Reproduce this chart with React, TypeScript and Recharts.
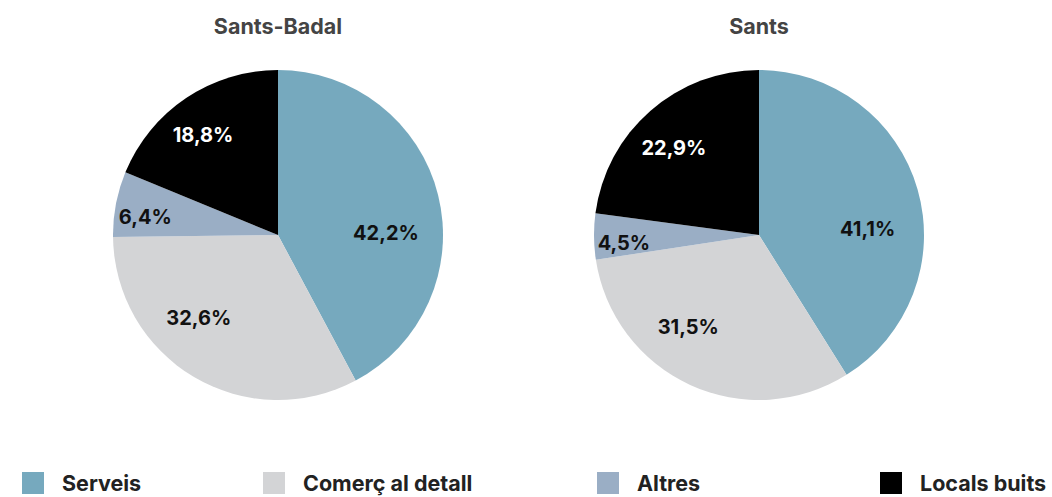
import React from "react";
import { PieChart, Pie, Cell, Legend } from "recharts";

// Categories and colours
const categories = ["Serveis", "Comerç al detall", "Altres", "Locals buits"];
const colors = ["#76a9be", "#d3d4d6", "#9aaec5", "#000000"];

// Share of premises (%)
const santsBadal = [42.2, 32.6, 6.4, 18.8];
const sants = [41.1, 31.5, 4.5, 22.9];

const titles = ["Sants-Badal", "Sants"];

const FONT = "Inter, Roboto, sans-serif";
const RADIAN = Math.PI / 180;

const toRows = (values: number[]) =>
  categories.map((name, i) => ({ name, value: values[i] }));

const renderLabel = (props: any) => {
  const { cx, cy, midAngle, outerRadius, value, index } = props;
  // smaller slices get their label pushed further out,
  // big ones are nudged clockwise a little
  const r = outerRadius * (0.62 + 0.22 * (1 - value / 50));
  const a = midAngle + (value > 30 ? -13 : 3);
  const x = cx + r * Math.cos(-a * RADIAN);
  const y = cy + r * Math.sin(-a * RADIAN);
  return (
    <text
      x={x}
      y={y}
      fill={index === 3 ? "#fff" : "#111"}
      textAnchor="middle"
      dominantBaseline="central"
      fontFamily={FONT}
      fontWeight={700}
      fontSize={20}
    >
      {value.toFixed(1).replace(".", ",")}%
    </text>
  );
};

// legend item left edges
const legendX = [22, 263, 597, 880];

const renderLegend = () => (
  <div style={{ position: "relative", width: 1052, height: 26 }}>
    {categories.map((c, i) => (
      <div
        key={c}
        style={{
          position: "absolute",
          left: legendX[i],
          top: 0,
          height: 24,
          lineHeight: "24px",
          display: "flex",
          alignItems: "center",
          fontFamily: FONT,
          fontWeight: 700,
          fontSize: 21.5,
          color: "#222",
          whiteSpace: "nowrap",
        }}
      >
        <span
          style={{
            display: "inline-block",
            width: 22,
            height: 22,
            background: colors[i],
            marginRight: 18,
          }}
        />
        {c}
      </div>
    ))}
  </div>
);

export default function App() {
  const centers = [278, 759];
  return (
    <div style={{ position: "absolute", left: 0, top: 0, width: 1052, height: 497, overflow: "hidden", background: "#fff" }}>
      <PieChart width={1052} height={497} margin={{ top: 0, right: 0, bottom: 0, left: 0 }}>
        {[santsBadal, sants].map((vals, k) => (
          <Pie
            key={titles[k]}
            data={toRows(vals)}
            dataKey="value"
            nameKey="name"
            cx={centers[k]}
            cy={235}
            outerRadius={165}
            startAngle={90}
            endAngle={-270}
            stroke="none"
            label={renderLabel}
            labelLine={false}
            isAnimationActive={false}
          >
            {vals.map((_, i) => (
              <Cell key={i} fill={colors[i]} />
            ))}
          </Pie>
        ))}
        {titles.map((t, k) => (
          <text
            key={t}
            x={centers[k]}
            y={26}
            textAnchor="middle"
            dominantBaseline="central"
            fontFamily={FONT}
            fontWeight={700}
            fontSize={21.5}
            fill="#444"
          >
            {t}
          </text>
        ))}
        <Legend
          content={renderLegend}
          wrapperStyle={{ position: "absolute", left: 0, top: 471, width: 1052 }}
        />
      </PieChart>
    </div>
  );
}
